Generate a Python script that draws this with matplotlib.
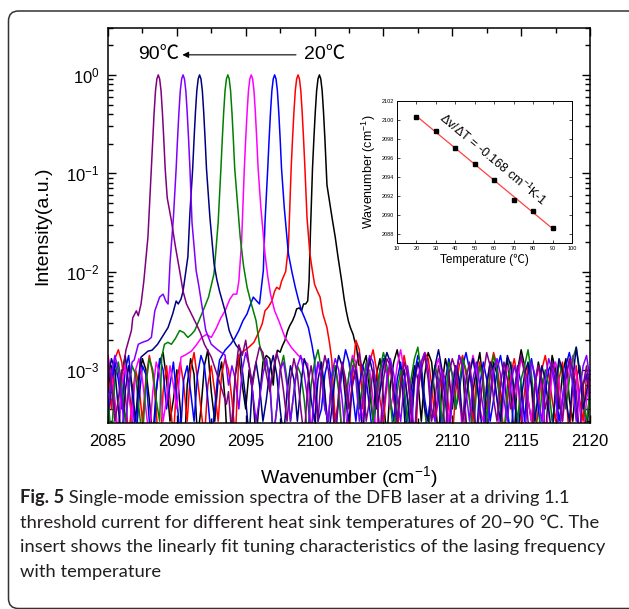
import numpy as np
import matplotlib
matplotlib.use('Agg')
import matplotlib.pyplot as plt
from matplotlib.ticker import MultipleLocator, LogLocator, NullFormatter, LogFormatterSciNotation
from matplotlib.patches import FancyBboxPatch
from matplotlib.transforms import IdentityTransform

plt.rcParams['font.family'] = ['Liberation Sans', 'Noto Sans CJK SC', 'DejaVu Sans']
plt.rcParams['mathtext.fontset'] = 'custom'
plt.rcParams['mathtext.rm'] = 'Liberation Sans'
plt.rcParams['mathtext.it'] = 'Liberation Sans:italic'
plt.rcParams['mathtext.bf'] = 'Liberation Sans:bold'

# ---------------- data ----------------
temperatures = [20, 30, 40, 50, 60, 70, 80, 90]
peak_wavenumber = [2100.35, 2098.8, 2097.1, 2095.4, 2093.7, 2091.65, 2090.45, 2088.65]
series_colors = ['#000000', '#ff0000', '#0000ff', '#ff00ff', '#008000', '#000080', '#8000ff', '#800080']

# shared shape of the peak core (offset from centre, log10 intensity)
core_offset = [-0.5, -0.4, -0.3, -0.2, -0.1, 0.0, 0.1, 0.2, 0.3, 0.4, 0.5]
core_log = [-0.95, -0.65, -0.38, -0.16, -0.04, 0.0, -0.04, -0.16, -0.38, -0.65, -0.95]

# wings (absolute wavenumber, log10 intensity)
left_wn_20 = [2097.1, 2097.3, 2097.5, 2097.65, 2097.85, 2098.05, 2098.2, 2098.4, 2098.55, 2098.7, 2098.9, 2099.05, 2099.2, 2099.35, 2099.5, 2099.6, 2099.7]
left_log_20 = [-2.95, -2.8, -2.82, -2.76, -2.7, -2.6, -2.55, -2.5, -2.45, -2.38, -2.37, -2.4, -2.33, -2.33, -2.3, -2.1, -1.6]
right_wn_20 = [2100.9, 2101.1, 2101.3, 2101.5, 2101.7, 2101.96, 2102.15, 2102.3, 2102.45, 2102.6, 2102.8, 2102.9, 2103.05, 2103.2]
right_log_20 = [-1.12, -1.3, -1.48, -1.65, -1.85, -2.09, -2.28, -2.4, -2.5, -2.57, -2.64, -2.7, -2.77, -2.95]

left_wn_30 = [2094.5, 2094.95, 2095.3, 2095.6, 2096.0, 2096.2, 2096.4, 2096.65, 2096.9, 2097.1, 2097.25, 2097.45, 2097.6, 2097.9, 2098.1]
left_log_30 = [-2.85, -2.8, -2.76, -2.72, -2.6, -2.53, -2.4, -2.36, -2.3, -2.2, -2.16, -2.18, -2.1, -2.0, -1.75]
right_wn_30 = [2099.45, 2099.66, 2099.85, 2100.0, 2100.2, 2100.4, 2100.6, 2100.9, 2101.1, 2101.25]
right_log_30 = [-1.45, -1.82, -2.0, -2.13, -2.2, -2.26, -2.43, -2.57, -2.74, -2.9]

left_wn_40 = [2093.1, 2093.5, 2093.9, 2094.2, 2094.5, 2094.8, 2095.1, 2095.3, 2095.55, 2095.8, 2096.0, 2096.28, 2096.4]
left_log_40 = [-2.9, -2.8, -2.74, -2.68, -2.6, -2.5, -2.43, -2.35, -2.26, -2.3, -2.33, -1.99, -1.5]
right_wn_40 = [2097.8, 2098.1, 2098.35, 2098.6, 2098.85, 2099.06, 2099.3, 2099.55, 2099.8, 2100.0]
right_log_40 = [-1.35, -1.82, -2.0, -2.16, -2.3, -2.4, -2.48, -2.57, -2.74, -2.9]

left_wn_50 = [2090.3, 2090.6, 2091.05, 2091.4, 2091.8, 2092.15, 2092.5, 2092.85, 2093.2, 2093.5, 2093.85, 2094.1, 2094.35, 2094.5, 2094.7]
left_log_50 = [-2.87, -2.85, -2.81, -2.75, -2.67, -2.64, -2.67, -2.58, -2.47, -2.4, -2.28, -2.23, -2.23, -2.1, -1.7]
right_wn_50 = [2096.1, 2096.4, 2096.6, 2096.8, 2097.1, 2097.4, 2097.85, 2098.3, 2098.8, 2099.5]
right_log_50 = [-1.35, -1.82, -2.05, -2.23, -2.4, -2.5, -2.67, -2.77, -2.85, -2.94]

left_wn_60 = [2088.9, 2089.1, 2089.35, 2089.6, 2089.9, 2090.2, 2090.5, 2090.8, 2091.05, 2091.3, 2091.6, 2091.9, 2092.3, 2092.7, 2093.0]
left_log_60 = [-2.87, -2.74, -2.72, -2.74, -2.68, -2.6, -2.62, -2.67, -2.64, -2.6, -2.5, -2.4, -2.26, -2.02, -1.5]
right_wn_60 = [2094.4, 2094.6, 2094.85, 2095.1, 2095.35, 2095.55, 2095.75, 2095.9, 2096.0, 2096.2, 2096.4]
right_log_60 = [-1.3, -1.65, -1.95, -2.16, -2.3, -2.4, -2.5, -2.64, -2.74, -2.85, -3.0]

left_wn_70 = [2087.4, 2087.9, 2088.2, 2088.6, 2089.0, 2089.36, 2089.7, 2089.95, 2090.1, 2090.3, 2090.45, 2090.8, 2090.95]
left_log_70 = [-2.87, -2.81, -2.8, -2.74, -2.65, -2.57, -2.43, -2.3, -2.33, -2.28, -2.2, -1.85, -1.4]
right_wn_70 = [2092.4, 2092.7, 2092.9, 2093.1, 2093.3, 2093.5, 2093.8, 2094.0, 2094.3, 2094.6]
right_log_70 = [-1.45, -1.92, -2.08, -2.2, -2.3, -2.4, -2.6, -2.67, -2.75, -2.8]

left_wn_80 = [2086.9, 2087.2, 2087.5, 2087.9, 2088.15, 2088.4, 2088.75, 2089.0, 2089.2, 2089.36, 2089.5, 2089.75]
left_log_80 = [-2.9, -2.74, -2.72, -2.7, -2.67, -2.4, -2.26, -2.23, -2.3, -2.33, -1.92, -1.45]
right_wn_80 = [2091.1, 2091.4, 2091.6, 2091.8, 2092.1, 2092.5, 2093.0, 2093.5]
right_log_80 = [-1.5, -1.99, -2.15, -2.33, -2.6, -2.74, -2.8, -2.85]

left_wn_90 = [2086.1, 2086.3, 2086.5, 2086.7, 2086.8, 2087.06, 2087.2, 2087.4, 2087.6, 2087.9]
left_log_90 = [-3.0, -2.8, -2.7, -2.6, -2.47, -2.4, -2.45, -2.33, -2.1, -1.65]
right_wn_90 = [2089.3, 2089.6, 2089.9, 2090.2, 2090.45, 2090.7, 2091.05, 2091.4, 2091.7, 2092.0, 2092.5, 2093.0, 2093.6]
right_log_90 = [-1.25, -1.48, -1.75, -1.99, -2.2, -2.33, -2.43, -2.53, -2.62, -2.74, -2.87, -3.08, -3.35]

# noise floor, 2085 ... 2120 every 0.25 cm-1, in units of 1e-4
floor_start = 2085.0
floor_step = 0.25
floor_20 = [6, 11, 4, 2, 9, 14, 7, 3, 1, 8, 13, 10, 5, 2, 6, 12, 15, 8, 3, 5,
            10, 4, 1, 7, 13, 9, 2, 4, 11, 16, 6, 3, 8, 12, 5, 1, 3, 9, 14, 7,
            4, 10, 6, 2, 5, 12, 14, 13, 7, 11, 15, 9, 4, 2, 6, 13, 10, 5, 3, 8,
            14, 11, 4, 1, 7, 12, 9, 3, 5, 10, 17, 8, 2, 4, 11, 14, 6, 3, 9, 13,
            5, 2, 7, 12, 16, 10, 4, 1, 6, 11, 8, 3, 9, 15, 12, 5, 2, 7, 13, 9,
            4, 8, 14, 11, 3, 1, 6, 10, 15, 7, 2, 5, 12, 9, 4, 8, 13, 6, 2, 10,
            16, 11, 5, 3, 7, 12, 8, 2, 6, 14, 10, 4, 9, 13, 5, 3, 8, 11, 6, 2,
            7]
floor_30 = [9, 4, 13, 16, 12, 6, 2, 5, 10, 7, 3, 8, 14, 9, 4, 1, 6, 11, 5, 2,
            8, 12, 7, 3, 10, 15, 8, 4, 2, 7, 11, 6, 3, 9, 13, 10, 5, 2, 6, 12,
            8, 4, 11, 7, 3, 5, 9, 14, 10, 6, 2, 4, 8, 13, 11, 5, 3, 7, 12, 9,
            4, 2, 6, 10, 14, 8, 3, 5, 11, 7, 2, 9, 20, 16, 4, 8, 12, 16, 10, 5,
            3, 7, 11, 6, 2, 8, 14, 9, 4, 1, 6, 12, 15, 13, 7, 3, 5, 10, 8, 4,
            2, 6, 11, 14, 9, 5, 3, 8, 12, 7, 4, 10, 15, 11, 6, 2, 5, 9, 13, 8,
            3, 6, 11, 7, 2, 4, 10, 14, 9, 5, 3, 8, 12, 6, 2, 7, 11, 5, 3, 9,
            6]
floor_40 = [3, 7, 12, 8, 4, 10, 14, 6, 2, 5, 11, 9, 3, 1, 6, 13, 10, 4, 7, 12,
            5, 2, 8, 11, 6, 3, 9, 14, 11, 5, 2, 4, 10, 7, 3, 8, 13, 9, 4, 6,
            11, 15, 8, 3, 5, 10, 6, 2, 7, 12, 9, 4, 3, 8, 14, 10, 5, 2, 6, 11,
            8, 3, 4, 9, 13, 7, 2, 5, 10, 16, 12, 6, 3, 7, 11, 8, 4, 2, 6, 10,
            13, 9, 5, 3, 8, 12, 6, 2, 4, 9, 14, 11, 5, 3, 7, 10, 6, 2, 8, 13,
            9, 4, 6, 11, 15, 10, 5, 2, 7, 12, 8, 3, 5, 10, 14, 9, 4, 2, 6, 11,
            7, 3, 9, 13, 8, 4, 2, 6, 10, 12, 7, 3, 5, 11, 15, 10, 4, 2, 7, 9,
            5]
floor_50 = [14, 9, 5, 2, 7, 11, 6, 3, 10, 13, 8, 4, 2, 6, 12, 9, 3, 5, 11, 7,
            4, 8, 13, 10, 5, 2, 6, 9, 12, 7, 3, 5, 10, 14, 9, 4, 2, 7, 11, 6,
            3, 8, 12, 15, 10, 5, 2, 6, 9, 4, 7, 11, 8, 3, 5, 10, 13, 9, 4, 2,
            6, 12, 10, 5, 3, 8, 11, 7, 2, 4, 9, 14, 12, 6, 3, 7, 10, 5, 2, 8,
            12, 9, 4, 6, 11, 16, 10, 5, 3, 7, 12, 8, 4, 2, 6, 10, 13, 9, 5, 3,
            8, 11, 7, 2, 5, 9, 14, 10, 4, 3, 7, 12, 8, 5, 2, 6, 11, 9, 4, 8,
            13, 10, 5, 3, 7, 11, 6, 2, 4, 9, 12, 8, 3, 6, 10, 14, 9, 4, 2, 5,
            8]
floor_60 = [5, 2, 8, 12, 7, 3, 6, 11, 9, 4, 2, 7, 13, 10, 5, 3, 8, 12, 6, 2,
            4, 9, 14, 11, 6, 3, 7, 10, 5, 2, 8, 13, 9, 4, 6, 11, 15, 10, 4, 2,
            7, 12, 8, 3, 5, 9, 13, 7, 2, 4, 10, 14, 8, 3, 6, 11, 9, 5, 2, 7,
            12, 16, 10, 4, 3, 8, 11, 6, 2, 5, 9, 13, 10, 4, 7, 12, 8, 3, 5, 10,
            15, 11, 5, 2, 6, 10, 7, 3, 8, 13, 17, 9, 4, 2, 6, 11, 8, 3, 5, 12,
            9, 4, 7, 13, 10, 5, 2, 6, 11, 8, 3, 9, 14, 10, 4, 2, 7, 12, 6, 3,
            8, 11, 16, 9, 4, 2, 6, 10, 7, 3, 5, 12, 9, 4, 8, 13, 17, 10, 5, 3,
            6]
floor_70 = [8, 13, 10, 4, 2, 6, 11, 7, 3, 9, 14, 8, 4, 2, 7, 12, 10, 5, 3, 8,
            11, 6, 2, 5, 10, 15, 9, 4, 6, 12, 8, 3, 2, 7, 11, 9, 4, 6, 13, 10,
            5, 2, 8, 12, 7, 3, 5, 10, 14, 9, 4, 2, 6, 11, 8, 3, 7, 13, 10, 5,
            3, 8, 12, 6, 2, 4, 9, 14, 11, 5, 3, 7, 10, 6, 2, 8, 13, 9, 4, 6,
            11, 15, 12, 6, 3, 7, 10, 5, 2, 8, 12, 9, 4, 3, 7, 11, 16, 10, 5, 2,
            6, 11, 8, 3, 5, 9, 13, 8, 4, 2, 7, 12, 10, 5, 3, 8, 14, 11, 6, 2,
            5, 9, 12, 7, 3, 6, 11, 8, 4, 2, 7, 13, 10, 5, 3, 8, 17, 9, 4, 6,
            10]
floor_80 = [4, 9, 14, 10, 5, 2, 7, 12, 8, 3, 6, 11, 15, 9, 4, 2, 8, 13, 10, 5,
            3, 7, 11, 6, 2, 5, 10, 14, 8, 4, 6, 12, 9, 3, 2, 7, 11, 8, 4, 10,
            15, 11, 6, 3, 5, 9, 13, 8, 2, 4, 10, 12, 7, 3, 6, 11, 14, 9, 5, 2,
            7, 12, 8, 4, 3, 9, 13, 10, 5, 2, 6, 11, 8, 3, 5, 10, 14, 12, 6, 2,
            4, 8, 13, 9, 5, 3, 7, 11, 6, 2, 8, 12, 15, 10, 4, 3, 7, 10, 6, 2,
            5, 9, 14, 11, 6, 3, 8, 12, 7, 4, 2, 6, 10, 13, 9, 5, 3, 7, 11, 8,
            4, 2, 6, 12, 9, 5, 3, 8, 13, 10, 6, 2, 5, 9, 12, 7, 3, 6, 11, 14,
            8]
floor_90 = [12, 7, 3, 5, 10, 14, 9, 4, 2, 6, 11, 8, 3, 7, 13, 10, 5, 2, 6, 12,
            9, 4, 3, 8, 11, 16, 10, 5, 2, 7, 12, 8, 3, 5, 10, 6, 2, 9, 18, 14,
            20, 11, 7, 12, 17, 15, 9, 6, 10, 15, 11, 6, 3, 8, 13, 9, 4, 2, 7, 11,
            6, 3, 9, 14, 10, 5, 2, 6, 12, 8, 4, 7, 11, 15, 9, 3, 5, 10, 6, 2,
            8, 13, 11, 5, 3, 7, 12, 9, 4, 2, 6, 10, 14, 8, 3, 5, 11, 7, 2, 9,
            13, 10, 5, 3, 8, 12, 6, 2, 4, 9, 15, 11, 5, 3, 7, 12, 8, 4, 6, 10,
            14, 9, 3, 2, 7, 11, 8, 4, 6, 12, 9, 5, 3, 8, 13, 10, 6, 2, 7, 11,
            5]

left_wn = [left_wn_20, left_wn_30, left_wn_40, left_wn_50, left_wn_60, left_wn_70, left_wn_80, left_wn_90]
left_log = [left_log_20, left_log_30, left_log_40, left_log_50, left_log_60, left_log_70, left_log_80, left_log_90]
right_wn = [right_wn_20, right_wn_30, right_wn_40, right_wn_50, right_wn_60, right_wn_70, right_wn_80, right_wn_90]
right_log = [right_log_20, right_log_30, right_log_40, right_log_50, right_log_60, right_log_70, right_log_80, right_log_90]
floors = [floor_20, floor_30, floor_40, floor_50, floor_60, floor_70, floor_80, floor_90]

caption_lines = [
    "Single-mode emission spectra of the DFB laser at a driving 1.1",
    "threshold current for different heat sink temperatures of 20\u201390 \u2103. The",
    "insert shows the linearly fit tuning characteristics of the lasing frequency",
    "with temperature",
]


def assemble(i):
    fl = np.asarray(floors[i], float)
    grid = floor_start + floor_step * np.arange(len(fl))
    flog = np.log10(fl * 1e-4)
    lo, hi = min(left_wn[i]), max(right_wn[i])
    ml = grid < lo - 0.05
    mr = grid > hi + 0.05
    c = peak_wavenumber[i]
    x = np.concatenate([grid[ml], left_wn[i], c + np.asarray(core_offset), right_wn[i], grid[mr]])
    y = np.concatenate([flog[ml], left_log[i], core_log, right_log[i], flog[mr]])
    o = np.argsort(x, kind='stable')
    return x[o], 10 ** y[o]


W, H = 629, 609
fig = plt.figure(figsize=(W / 100, H / 100), dpi=100)

# frame
frame = FancyBboxPatch((8.5, 0.5), 660, 597.5, boxstyle='round,pad=0,rounding_size=10',
                       transform=IdentityTransform(), fill=False, lw=1.1, edgecolor='#333333')
fig.add_artist(frame)

ax = fig.add_axes([108 / W, 1 - 423 / H, 482 / W, 395 / H])
for i in range(len(temperatures)):
    x, y = assemble(i)
    ax.plot(x, y, color=series_colors[i], lw=1.1)

ax.set_yscale('log')
ax.set_xlim(2085, 2120)
ax.set_ylim(2.88e-4, 3.0)
ax.xaxis.set_major_locator(MultipleLocator(5))
ax.xaxis.set_minor_locator(MultipleLocator(2.5))
ax.yaxis.set_major_locator(LogLocator(base=10, numticks=10))
ax.yaxis.set_minor_locator(LogLocator(base=10, subs=np.arange(2, 10), numticks=20))
ax.yaxis.set_minor_formatter(NullFormatter())
ax.yaxis.set_major_formatter(LogFormatterSciNotation())
ax.tick_params(which='both', direction='in', top=True, right=True, width=1.0)
ax.tick_params(which='major', length=5.5)
ax.tick_params(which='minor', length=3.5)
ax.tick_params(axis='x', which='major', labelsize=12, pad=8)
ax.tick_params(axis='y', which='major', labelsize=12, pad=6)
for s in ax.spines.values():
    s.set_linewidth(1.1)

ax.set_xlabel('Wavenumber (cm$^{-1}$)', fontsize=14)
ax.xaxis.set_label_coords(0.5, -0.105)
ax.set_ylabel('Intensity(a.u.)', fontsize=14)
ax.yaxis.set_label_coords(-0.118, 0.5)

# temperature arrow
ax.annotate('', xy=(2090.4, 1.6), xytext=(2098.65, 1.6),
            arrowprops=dict(arrowstyle='-|>', lw=0.8, color='black', mutation_scale=9, shrinkA=0, shrinkB=0))
ax.text(2087.2, 1.6, '90\u2103', fontsize=14, ha='left', va='center')
ax.text(2099.2, 1.6, '20\u2103', fontsize=14, ha='left', va='center')

# inset
axi = fig.add_axes([397 / W, 1 - 243 / H, 175 / W, 142 / H])
coef = np.polyfit(temperatures, peak_wavenumber, 1)
tfit = np.array([min(temperatures), max(temperatures)])
axi.plot(tfit, np.polyval(coef, tfit), color='#ff4040', lw=0.9)
axi.plot(temperatures, peak_wavenumber, 's', color='black', ms=3.2)
axi.set_xlim(10, 100)
axi.set_ylim(2087.1, 2102)
axi.xaxis.set_major_locator(MultipleLocator(10))
axi.yaxis.set_major_locator(MultipleLocator(2))
axi.tick_params(which='both', direction='in', top=True, right=True, length=2, width=0.5,
                labelsize=4, pad=2)
for s in axi.spines.values():
    s.set_linewidth(0.7)
axi.set_xlabel('Temperature (\u2103)', fontsize=8.5, labelpad=2)
axi.set_ylabel('Wavenumber (cm$^{-1}$)', fontsize=9, labelpad=3)
axi.text(59.5, 2095.9, '\u0394v/\u0394T = -0.168 cm$^{-1}$K-1', fontsize=9,
         rotation=-40, ha='center', va='center', rotation_mode='anchor')

# caption
cap_kw = dict(family=['Lato', 'DejaVu Sans'], fontsize=13.2, color='#231f20', va='center', ha='left')
line_y = [498, 523, 547, 572]
renderer = fig.canvas.get_renderer()
t0 = fig.text(20 / W, 1 - line_y[0] / H, 'Fig. 5', fontweight='bold', **cap_kw)
bb = t0.get_window_extent(renderer=renderer)
fig.text(bb.x1 / fig.bbox.width, 1 - line_y[0] / H, ' ' + caption_lines[0], **cap_kw)
for k in range(1, 4):
    fig.text(20 / W, 1 - line_y[k] / H, caption_lines[k], **cap_kw)

fig.savefig('out.png', dpi=100)
